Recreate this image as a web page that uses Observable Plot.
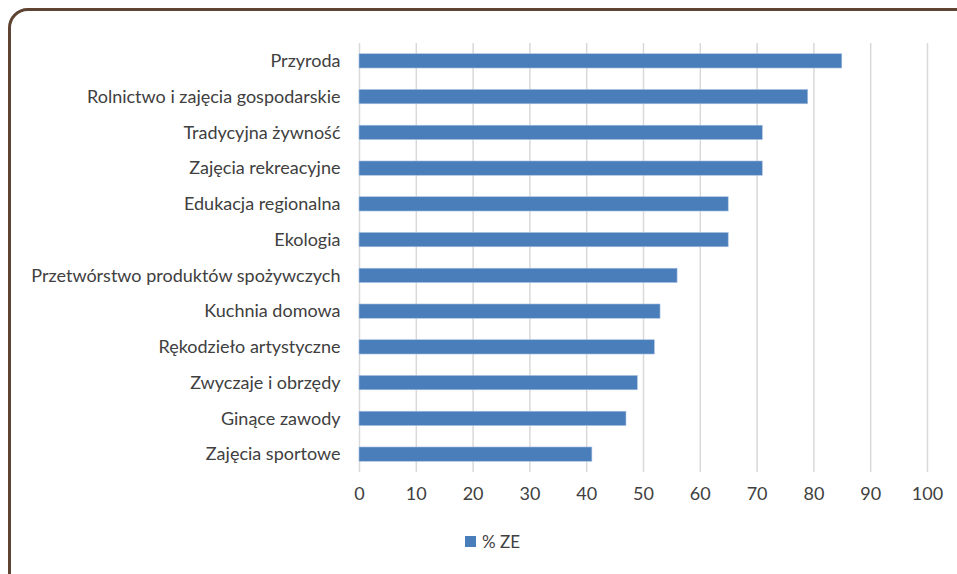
<!DOCTYPE html>
<html>
<head>
<meta charset="utf-8">
<script src="https://cdn.jsdelivr.net/npm/d3@7"></script>
<script src="https://cdn.jsdelivr.net/npm/@observablehq/plot@0.6"></script>
<style>
  html, body { margin: 0; padding: 0; background: #fff; overflow: hidden; }
  #wrap { position: relative; width: 957px; height: 574px; overflow: hidden; font-family: Lato, sans-serif; }
  #frame { position: absolute; left: 8px; top: 8px; width: 1000px; height: 700px; border: 3px solid #5e4433; border-top-left-radius: 20px; box-sizing: border-box; }
  #chart { position: absolute; left: 0; top: 0; }
  #legend { position: absolute; top: 530px; left: 465px; height: 22px; display: flex; align-items: center; font-size: 17px; color: #404040; }
  #legend .sw { width: 11px; height: 11px; background: #4a7ebb; margin-right: 6px; }
</style>
</head>
<body>
<div id="wrap">
  <div id="frame"></div>
  <div id="chart"></div>
  <div id="legend"><div class="sw"></div><span id="legendLabel"></span></div>
</div>
<script>
const categories = [
  "Przyroda",
  "Rolnictwo i zajęcia gospodarskie",
  "Tradycyjna żywność",
  "Zajęcia rekreacyjne",
  "Edukacja regionalna",
  "Ekologia",
  "Przetwórstwo produktów spożywczych",
  "Kuchnia domowa",
  "Rękodzieło artystyczne",
  "Zwyczaje i obrzędy",
  "Ginące zawody",
  "Zajęcia sportowe"
];
const values = [85, 79, 71, 71, 65, 65, 56, 53, 52, 49, 47, 41];
const xTicks = [0, 10, 20, 30, 40, 50, 60, 70, 80, 90, 100];
const seriesName = "% ZE";

const data = categories.map((c, i) => ({category: c, value: values[i]}));
document.getElementById("legendLabel").textContent = seriesName;

const chart = Plot.plot({
  width: 957,
  height: 520,
  marginTop: 43,
  marginBottom: 48,
  marginLeft: 359,
  marginRight: 30,
  style: {fontFamily: "Lato, sans-serif", fontSize: "18px", color: "#404040", background: "transparent"},
  x: {domain: [0, 100], ticks: xTicks, label: null},
  y: {domain: categories, label: null, paddingInner: 0.6, paddingOuter: 0.3, round: false},
  marks: [
    Plot.gridX(xTicks, {stroke: "#d9d9d9", strokeOpacity: 1, strokeWidth: 1.5}),
    Plot.barX(data, {x: "value", y: "category", fill: "#4a7ebb", stroke: "#a9c1e0", strokeWidth: 0.6}),
    Plot.axisX({ticks: xTicks, tickSize: 0, tickPadding: 15, fontSize: 18, fill: "#404040"}),
    Plot.axisY({tickSize: 0, tickPadding: 19, fontSize: 18, fill: "#404040"})
  ]
});
document.getElementById("chart").appendChild(chart);
</script>
</body>
</html>
